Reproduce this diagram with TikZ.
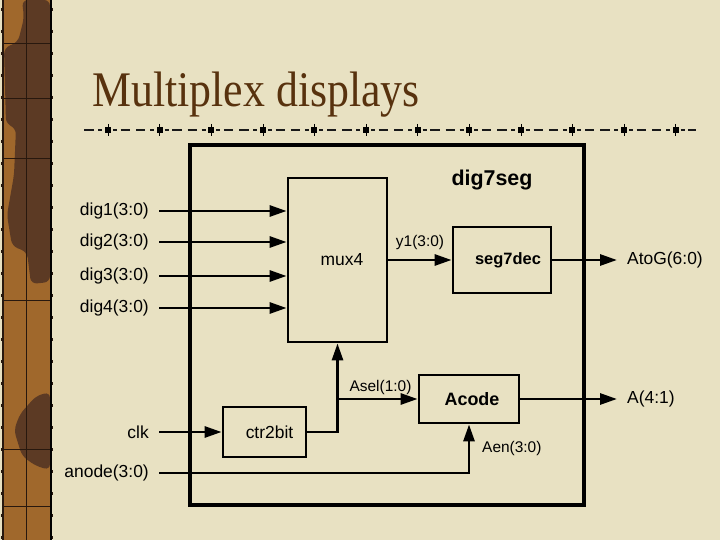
\documentclass[tikz,border=0pt]{standalone}
\usepackage{fontspec}
\setmainfont{Liberation Serif}
\setsansfont{Liberation Sans}
\usepackage{tikz}
\usetikzlibrary{arrows.meta, positioning, calc, backgrounds}
\definecolor{slidebg}{RGB}{232, 225, 194}
\definecolor{titlebrown}{RGB}{88, 50, 14}
\definecolor{stripfill}{RGB}{160, 104, 44}
\definecolor{stripdark}{RGB}{92, 58, 36}
\definecolor{stripline}{RGB}{40, 24, 14}

\begin{document}
\begin{tikzpicture}[
    x=1bp, y=-1bp,
    every node/.style={font=\sffamily\fontsize{17.5}{20}\selectfont},
    block/.style={rectangle, draw=black, line width=2.8bp, inner sep=0pt},
    topblock/.style={rectangle, draw=black, line width=4bp, inner sep=0pt},
    port/.style={inner ysep=0pt, inner xsep=10bp},
    wirelabel/.style={font=\sffamily\fontsize{15.5}{18}\selectfont, inner sep=1bp},
    wire/.style={line width=2.8bp},
    bus/.style={wire, -{Triangle[length=17bp, width=11bp]}}
]

% Slide background
\fill[slidebg] (0,0) rectangle (720,540);
\useasboundingbox (0,0) rectangle (720,540);

% Left film strip
\fill[stripfill] (3,0) rectangle (50,540);
\fill[stripdark, rounded corners=6bp] (22,0) -- (50,0) -- (50,282) -- (31,284) -- (27,252) -- (12,246) -- (7,215) -- (14,175) -- (16,128) -- (6,124) -- (4,48) -- (18,42) -- (24,18) -- cycle;
\fill[stripdark, rounded corners=6bp] (50,392) -- (50,470) -- (36,466) -- (22,456) -- (14,430) -- (20,414) -- (36,396) -- cycle;
\draw[stripline, line width=0.8bp] (26,0) -- (26,540);
\foreach \gy in {43,98,158,300,449,506}
  \draw[stripline, line width=0.8bp] (3,\gy) -- (50,\gy);
\draw[stripline, line width=1.2bp] (3,0) -- (3,540);
\draw[black, line width=2bp] (51,0) -- (51,540);
\draw[stripline, line width=1.5bp, dash pattern=on 3bp off 19bp] (1.5,8) -- (1.5,540);
\draw[stripline, line width=1.5bp, dash pattern=on 3bp off 19bp] (52.5,8) -- (52.5,540);

% Title and rule
\node[anchor=base west, inner sep=0pt, text=titlebrown, font=\rmfamily\fontsize{50}{50}\selectfont] (title) at (92,107) {\scalebox{0.88}[1]{Multiplex displays}};
\draw[black!90, line width=1.3bp, dash pattern=on 4bp off 3.7bp on 9.3bp off 6bp on 9.3bp off 4.7bp on 4bp off 10.6bp, dash phase=22.6bp] (84,130) -- (696,130);
\foreach \i in {0,...,11} {
  \fill[black] ({108+51.6*\i-3},127) rectangle ++(6,6);
  \draw[black, line width=0.6bp] ({108+51.6*\i},124) -- ++(0,12);
}

% Top level: dig7seg
\node[topblock, minimum width=394bp, minimum height=360bp] (top) at (387,325) {};
\node[font=\sffamily\bfseries\fontsize{21.5}{24}\selectfont] (topname) at (492,180) {dig7seg};

% Inner blocks
\node[block, minimum width=99bp, minimum height=164bp] (mux) at (337.5,260) {\hspace*{9bp}mux4};
\node[block, minimum width=98bp, minimum height=66bp, font=\sffamily\bfseries\fontsize{16.5}{19}\selectfont] (dec) at (502,260) {\hspace*{12bp}seg7dec};
\node[block, minimum width=100bp, minimum height=48bp, font=\sffamily\bfseries\fontsize{18}{20}\selectfont] (acode) at (469,399) {\hspace*{6bp}Acode};
\node[block, minimum width=83bp, minimum height=50bp] (ctr) at (264.5,432) {\hspace*{10bp}ctr2bit};

% Inputs
\node[port, anchor=east] (dig1) at (159,211) {dig1(3:0)};
\node[port, anchor=east] (dig2) at (159,242) {dig2(3:0)};
\node[port, anchor=east] (dig3) at (159,276) {dig3(3:0)};
\node[port, anchor=east] (dig4) at (159,308) {dig4(3:0)};
\node[port, anchor=east] (clk) at (159,432) {clk};
\node[port, anchor=east] (anode) at (159,473) {anode(3:0)};

% Outputs
\node[port, anchor=west] (atog) at (617,260) {AtoG(6:0)};
\node[port, anchor=west] (aout) at (617,399) {A(4:1)};

% Connections
\draw[bus] (dig1.east) -- (dig1.east -| mux.west);
\draw[bus] (dig2.east) -- (dig2.east -| mux.west);
\draw[bus] (dig3.east) -- (dig3.east -| mux.west);
\draw[bus] (dig4.east) -- (dig4.east -| mux.west);
\draw[bus] (mux.east |- dec.west) -- (dec.west);
\draw[bus] (dec.east) -- (atog.west);
\draw[bus] (clk.east) -- (ctr.west);
\draw[bus] (ctr.east) -| (mux.south);
\coordinate (asel) at (mux.south |- acode.west);
\draw[bus] (asel) -- (acode.west);
\draw[bus] (anode.east) -| (acode.south);
\draw[bus] (acode.east) -- (aout.west);

% Wire labels
\node[wirelabel] (ylbl) at (420,243) {y1(3:0)};
\node[wirelabel] (asellbl) at (380.5,388) {Asel(1:0)};
\node[wirelabel, anchor=west] (aenlbl) at (481,449) {Aen(3:0)};

\end{tikzpicture}
\end{document}
